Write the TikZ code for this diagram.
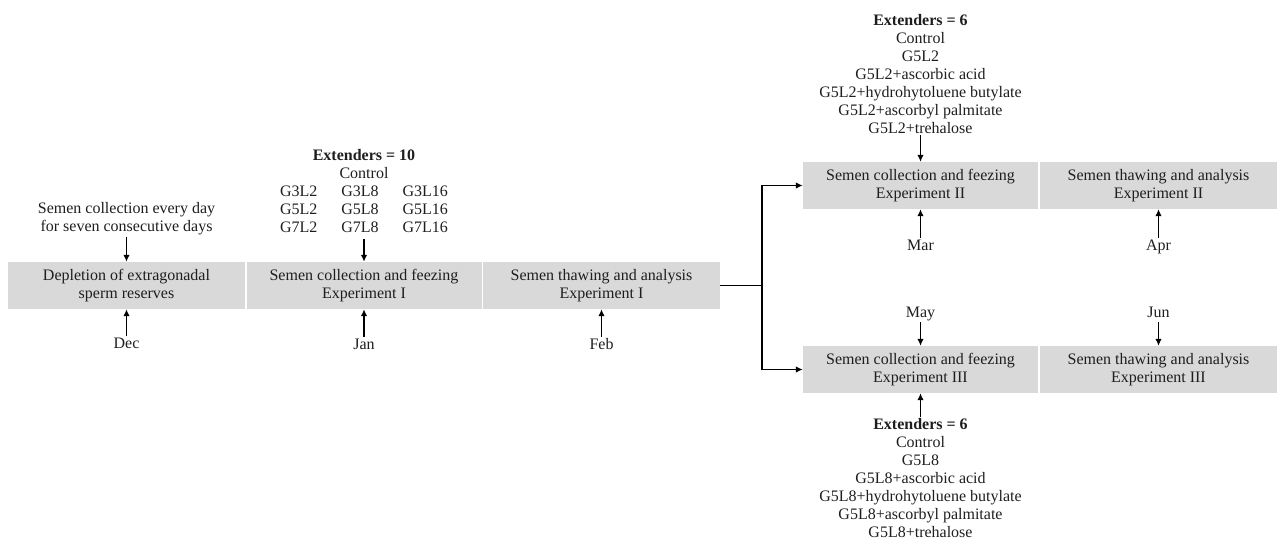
\documentclass[tikz,border=0pt]{standalone}
\usepackage{fontspec}
\setmainfont{Liberation Serif}
\usetikzlibrary{arrows.meta}
\definecolor{boxgray}{HTML}{D9D9D9}
\definecolor{txt}{HTML}{1E1E1E}
\begin{document}
\begin{tikzpicture}[x=1pt,y=-1pt,
  font=\fontsize{16}{18}\selectfont,
  every node/.style={text=txt},
  stage/.style={fill=boxgray, minimum height=47pt, inner sep=0pt, align=center},
  lbl/.style={inner sep=0pt, align=center},
  month/.style={inner sep=0pt, text height=11pt, text depth=3.5pt},
  arr/.style={-{Latex[length=7pt,width=6.5pt]}, line width=1.3pt, shorten <=1.5pt},
  link/.style={line width=1.3pt}]
\useasboundingbox (0,0) rectangle (1279,540);

% stage boxes
\node[stage, minimum width=237pt] (b1) at (126.5,285.5) {Depletion of extragonadal\\sperm reserves};
\node[stage, minimum width=235pt] (b2) at (364,285.5) {Semen collection and feezing\\Experiment I};
\node[stage, minimum width=237pt] (b3) at (601.5,285.5) {Semen thawing and analysis\\Experiment I};
\node[stage, minimum width=235pt] (b4) at (920.5,185.5) {Semen collection and feezing\\Experiment II};
\node[stage, minimum width=237pt] (b5) at (1158.5,185.5) {Semen thawing and analysis\\Experiment II};
\node[stage, minimum width=235pt] (b6) at (920.5,369.5) {Semen collection and feezing\\Experiment III};
\node[stage, minimum width=237pt] (b7) at (1158.5,369.5) {Semen thawing and analysis\\Experiment III};

% labels above
\node[lbl] (t1) at (126.5,219) {Semen collection every day\\for seven consecutive days};
\node[lbl] (e10) at (364,192.5) {\setlength{\tabcolsep}{12pt}\begin{tabular}{@{}ccc@{}}
\multicolumn{3}{c}{\textbf{Extenders = 10}}\\
\multicolumn{3}{c}{Control}\\
G3L2 & G3L8 & G3L16\\
G5L2 & G5L8 & G5L16\\
G7L2 & G7L8 & G7L16
\end{tabular}};
\node[lbl] (e6a) at (920.5,74) {\textbf{Extenders = 6}\\Control\\G5L2\\G5L2+ascorbic acid\\G5L2+hydrohytoluene butylate\\G5L2+ascorbyl palmitate\\G5L2+trehalose};
\node[lbl] (e6b) at (920.5,478.5) {\textbf{Extenders = 6}\\Control\\G5L8\\G5L8+ascorbic acid\\G5L8+hydrohytoluene butylate\\G5L8+ascorbyl palmitate\\G5L8+trehalose};

% months
\node[month] (mdec) at (126.5,345) {Dec};
\node[month] (mjan) at (364,345.5) {Jan};
\node[month] (mfeb) at (601.5,346) {Feb};
\node[month] (mmar) at (920.5,246.5) {Mar};
\node[month] (mapr) at (1158.5,246.5) {Apr};
\node[month] (mmay) at (920.5,313.5) {May};
\node[month] (mjun) at (1158.5,313.5) {Jun};

% arrows
\draw[arr] (t1.south) -- (b1.north);
\draw[arr] (e10.south) -- (b2.north);
\draw[arr] (e6a.south) -- (b4.north);
\draw[arr] (e6b.north) -- (b6.south);
\draw[arr] (mdec.north) -- (b1.south);
\draw[arr] (mjan.north) -- (b2.south);
\draw[arr] (mfeb.north) -- (b3.south);
\draw[arr] (mmar.north) -- (b4.south);
\draw[arr] (mapr.north) -- (b5.south);
\draw[arr] (mmay.south) -- (b6.north);
\draw[arr] (mjun.south) -- (b7.north);

% branch
\coordinate (br) at (762,285.5);
\draw[link] (b3.east) -- (br);
\draw[arr, shorten <=0pt] (br) |- (b4.west);
\draw[arr, shorten <=0pt] (br) |- (b6.west);
\end{tikzpicture}
\end{document}
